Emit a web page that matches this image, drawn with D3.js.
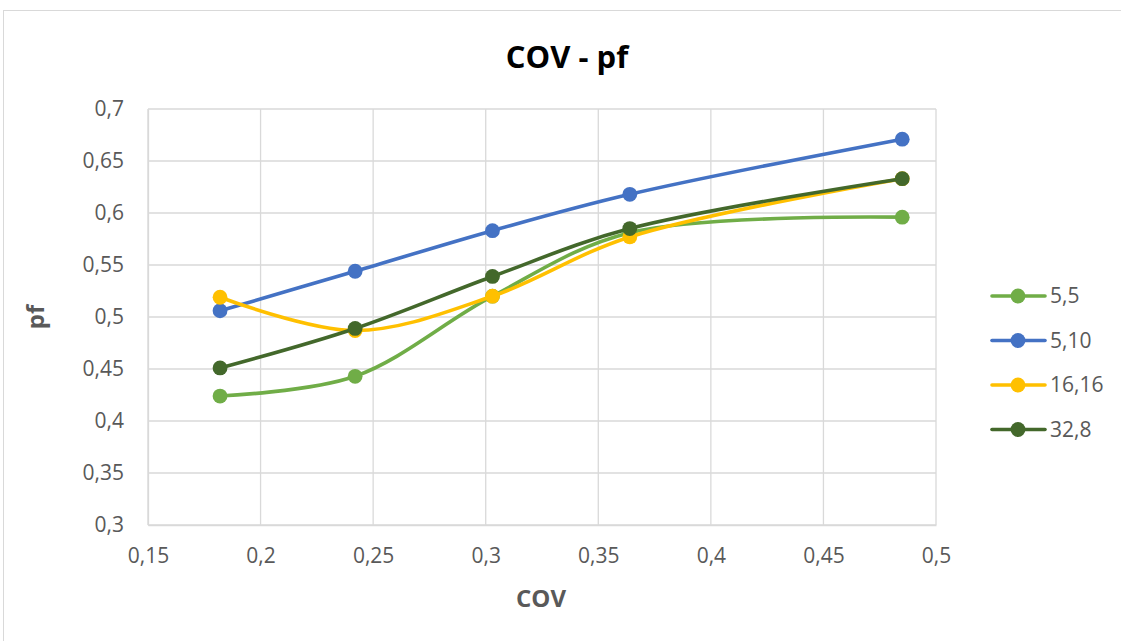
<!DOCTYPE html>
<html><head><meta charset="utf-8">
<script src="https://cdn.jsdelivr.net/npm/d3@7"></script>
<style>body{margin:0;background:#fff;} svg{display:block;}</style>
</head><body>
<svg id="c" width="1121" height="641"></svg>
<script>
const cov = [0.182, 0.242, 0.303, 0.364, 0.485];
const s55 = [0.424, 0.443, 0.520, 0.581, 0.596];
const s510 = [0.506, 0.544, 0.583, 0.618, 0.671];
const s1616 = [0.519, 0.487, 0.520, 0.577, 0.633];
const s328 = [0.451, 0.489, 0.539, 0.585, 0.633];
const seriesNames = ["5,5", "5,10", "16,16", "32,8"];
const seriesColors = ["#70ad47", "#4472c4", "#ffc000", "#43682b"];
const xTicks = [0.15, 0.2, 0.25, 0.3, 0.35, 0.4, 0.45, 0.5];
const yTicks = [0.3, 0.35, 0.4, 0.45, 0.5, 0.55, 0.6, 0.65, 0.7];

const series = [s55, s510, s1616, s328].map((v, i) => ({name: seriesNames[i], color: seriesColors[i], values: v}));
const svg = d3.select("#c");
const font = "'Open Sans', 'Liberation Sans', sans-serif";
const fmt = d => String(d).replace(".", ",");

svg.append("rect").attr("x", 3.5).attr("y", 10.5).attr("width", 1130).attr("height", 640)
  .attr("fill", "#fff").attr("stroke", "#d9d9d9").attr("stroke-width", 1);

const x = d3.scaleLinear().domain([0.15, 0.5]).range([148, 936]);
const y = d3.scaleLinear().domain([0.3, 0.7]).range([525, 109]);

// grid
svg.append("g").selectAll("line").data(yTicks).join("line")
  .attr("x1", x(0.15)).attr("x2", x(0.5)).attr("y1", d => y(d)).attr("y2", d => y(d))
  .attr("stroke", "#d9d9d9").attr("stroke-width", 1.3);
svg.append("g").selectAll("line").data(xTicks).join("line")
  .attr("y1", y(0.3)).attr("y2", y(0.7)).attr("x1", d => x(d)).attr("x2", d => x(d))
  .attr("stroke", "#d9d9d9").attr("stroke-width", 1.3);

// axes (labels only)
const xa = svg.append("g").attr("transform", `translate(0,${y(0.3)})`)
  .call(d3.axisBottom(x).tickValues(xTicks).tickFormat(fmt).tickSize(0).tickPadding(23));
const ya = svg.append("g").attr("transform", `translate(${x(0.15)},0)`)
  .call(d3.axisLeft(y).tickValues(yTicks).tickFormat(fmt).tickSize(0).tickPadding(24));
[xa, ya].forEach(a => {
  a.attr("font-size", null).attr("font-family", null);
  a.select(".domain").attr("stroke", "#d9d9d9").attr("stroke-width", 1.3);
  a.selectAll("text").attr("fill", "#595959").attr("font-family", font).attr("font-size", 21);
});

// title
svg.append("text").attr("x", 567).attr("y", 68).attr("text-anchor", "middle")
  .attr("font-family", font).attr("font-size", 31).attr("font-weight", "bold")
  .attr("fill", "#000").text("COV - pf");
svg.append("text").attr("x", 541).attr("y", 607).attr("text-anchor", "middle")
  .attr("font-family", font).attr("font-size", 24).attr("font-weight", "bold")
  .attr("fill", "#595959").text("COV");
svg.append("text").attr("transform", "translate(44,317) rotate(-90)").attr("text-anchor", "middle")
  .attr("font-family", font).attr("font-size", 24).attr("font-weight", "bold")
  .attr("fill", "#595959").text("pf");

const line = d3.line().x((d, i) => x(cov[i])).y(d => y(d)).curve(d3.curveCatmullRom.alpha(0.5));
const g = svg.append("g");
series.forEach(s => {
  g.append("path").attr("d", line(s.values)).attr("fill", "none")
    .attr("stroke", s.color).attr("stroke-width", 3.6).attr("stroke-linecap", "round");
  g.selectAll(null).data(s.values).join("circle")
    .attr("cx", (d, i) => x(cov[i])).attr("cy", d => y(d)).attr("r", 7.4).attr("fill", s.color);
});

// legend
const lg = svg.append("g");
series.forEach((s, i) => {
  const yy = 296 + i * 44.5;
  lg.append("line").attr("x1", 992).attr("x2", 1045).attr("y1", yy).attr("y2", yy)
    .attr("stroke", s.color).attr("stroke-width", 3.6).attr("stroke-linecap", "round");
  lg.append("circle").attr("cx", 1018).attr("cy", yy).attr("r", 7.4).attr("fill", s.color);
  lg.append("text").attr("x", 1050).attr("y", yy).attr("dy", "0.35em")
    .attr("font-family", font).attr("font-size", 21).attr("fill", "#595959").text(s.name);
});
</script>
</body></html>
